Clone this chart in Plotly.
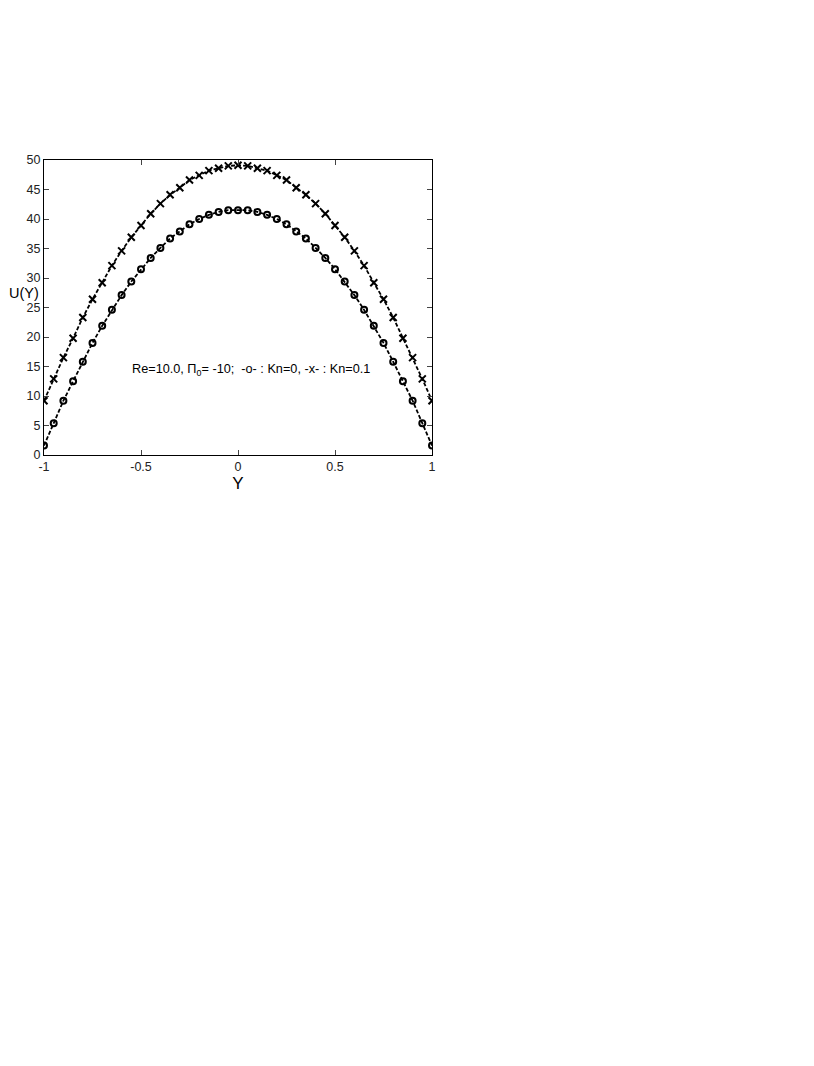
import plotly.graph_objects as go

# Y positions of the markers (step 0.05)
y_pos = [round(-1 + 0.05 * i, 2) for i in range(41)]

# U(Y), Kn = 0 (circles), left half then right half
u_kn0_left = [1.6, 5.4, 9.2, 12.5, 15.8, 19.0, 21.9, 24.6, 27.1, 29.4, 31.5,
              33.4, 35.1, 36.7, 37.9, 39.1, 40.0, 40.7, 41.2, 41.5]
u_kn0_mid = [41.5]
u_kn0 = u_kn0_left + u_kn0_mid + u_kn0_left[::-1]

# U(Y), Kn = 0.1 (crosses)
u_kn01_left = [9.2, 12.9, 16.5, 19.8, 23.3, 26.4, 29.2, 32.1, 34.6, 36.9, 38.9,
               40.9, 42.6, 44.1, 45.3, 46.6, 47.4, 48.2, 48.6, 49.0]
u_kn01_mid = [49.1]
u_kn01 = u_kn01_left + u_kn01_mid + u_kn01_left[::-1]

x_ticks = [-1, -0.5, 0, 0.5, 1]
x_labels = ["-1", "-0.5", "0", "0.5", "1"]
y_ticks = list(range(0, 51, 5))

font = "Liberation Sans, Arial, sans-serif"

fig = go.Figure()
fig.add_trace(go.Scatter(
    x=y_pos, y=u_kn0, mode="lines+markers",
    line=dict(color="black", width=1.8, dash="4px,2px"),
    marker=dict(symbol="circle-open", size=6, color="black", line=dict(width=2)),
    showlegend=False))
fig.add_trace(go.Scatter(
    x=y_pos, y=u_kn01, mode="lines+markers",
    line=dict(color="black", width=1.8, dash="4px,2px"),
    marker=dict(symbol="x-thin-open", size=7, color="black", line=dict(width=2)),
    showlegend=False))

axis_style = dict(showline=True, mirror="ticks", linecolor="black", linewidth=1,
                  ticks="inside", ticklen=5, tickcolor="#444", showgrid=False,
                  zeroline=False, tickfont=dict(family=font, size=12.5, color="#222"))

fig.update_xaxes(range=[-1, 1], tickvals=x_ticks, ticktext=x_labels,
                 title=dict(text="Y", font=dict(family=font, size=17, color="black"),
                            standoff=4), **axis_style)
fig.update_yaxes(range=[0, 50], tickvals=y_ticks, **axis_style)

fig.add_annotation(x=-36 / 388, y=27.5, xref="paper", yref="y", xanchor="left",
                   text="U(Y)", showarrow=False, borderpad=0,
                   font=dict(family=font, size=14.5, color="black"))
fig.add_annotation(x=0.067, y=14.4, xref="x", yref="y",
                   text="Re=10.0, \u03a0<sub>0</sub>= -10;  -o- : Kn=0, -x- : Kn=0.1",
                   showarrow=False, font=dict(family=font, size=12.7, color="black"))

fig.update_layout(width=814, height=1066, plot_bgcolor="white", paper_bgcolor="white",
                  margin=dict(l=36, r=390, t=152, b=619))

fig.write_html("out.html")
